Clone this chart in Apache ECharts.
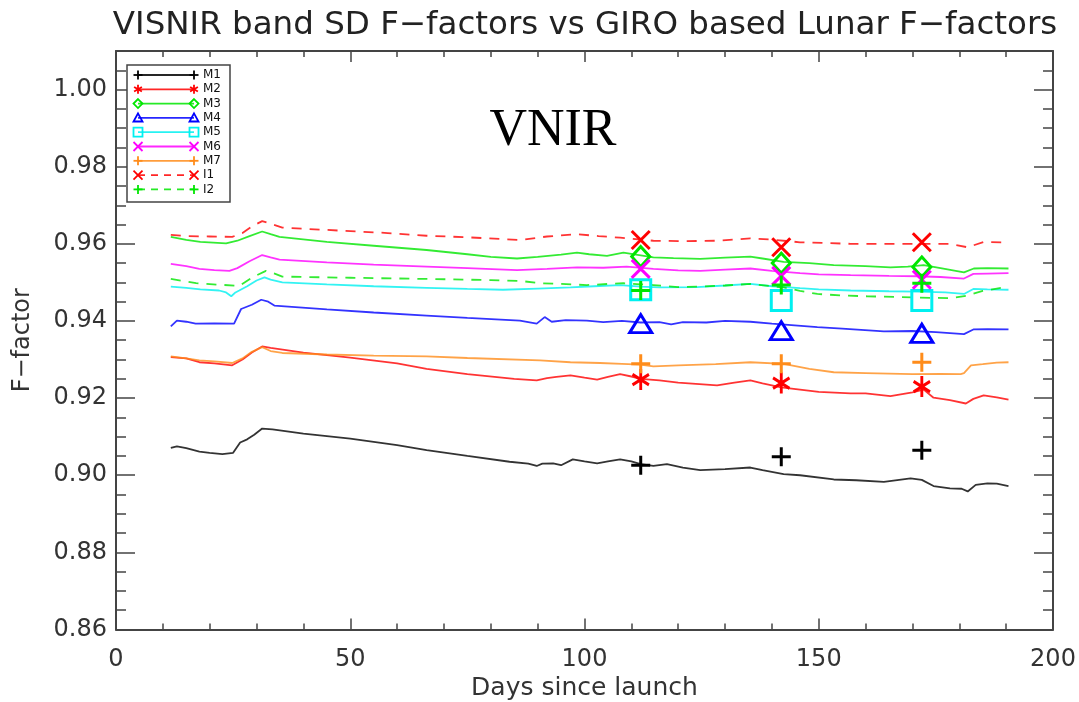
<!DOCTYPE html>
<html>
<head>
<meta charset="utf-8">
<title>VISNIR band SD F-factors vs GIRO based Lunar F-factors</title>
<script src="https://cdn.jsdelivr.net/npm/echarts@6/dist/echarts.min.js"></script>
<style>
  html, body { margin: 0; padding: 0; background: #fff; }
  #chart { width: 1079px; height: 702px; }
</style>
</head>
<body>
<div id="chart"></div>
<script>
// ---- data ----------------------------------------------------------------
const BANDS = ['M1', 'M2', 'M3', 'M4', 'M5', 'M6', 'M7', 'I1', 'I2'];

// Solar-diffuser F-factor trends: [days since launch, F-factor]
const SD_M1 = [[11.7,0.9071],[13,0.9075],[15,0.9070],[17.8,0.9061],[20,0.9058],[22.7,0.9055],[25,0.9058],[26.5,0.9085],[28,0.9093],[29.5,0.9105],[31.2,0.9121],[33.4,0.9119],[40,0.9108],[50,0.9095],[60,0.9078],[66.3,0.9065],[75,0.9050],[84,0.9035],[88,0.9030],[89.8,0.9024],[91,0.9030],[93.3,0.9031],[95,0.9026],[97.5,0.9041],[100,0.9036],[102.7,0.9031],[105,0.9036],[107.6,0.9041],[110,0.9036],[112,0.9029],[114.7,0.9024],[117.6,0.9029],[121,0.9020],[124.7,0.9013],[130,0.9016],[135.4,0.9020],[138,0.9013],[142.5,0.9003],[146,0.9000],[153.2,0.8989],[158,0.8987],[163.9,0.8983],[169.6,0.8992],[172,0.8988],[174.5,0.8972],[178,0.8966],[180.5,0.8965],[181.8,0.8958],[183.5,0.8975],[186,0.8979],[188,0.8978],[190.5,0.8972]];
const SD_M2 = [[11.7,0.9306],[15,0.9303],[17.8,0.9293],[21,0.9290],[24.8,0.9285],[27,0.9300],[29,0.9318],[31.2,0.9334],[33,0.9330],[40,0.9318],[50,0.9305],[60,0.9290],[66.3,0.9276],[75,0.9262],[85,0.9250],[89.8,0.9246],[92,0.9252],[94,0.9255],[97,0.9259],[100,0.9253],[102.7,0.9248],[105,0.9255],[107.6,0.9262],[110,0.9256],[112,0.9250],[116,0.9246],[120,0.9240],[128.3,0.9233],[132,0.9240],[135.4,0.9246],[138,0.9238],[142,0.9228],[146,0.9222],[150,0.9216],[156.8,0.9212],[160,0.9212],[165.3,0.9205],[170,0.9215],[172.4,0.9222],[174.5,0.9201],[178,0.9195],[181.4,0.9186],[183,0.9198],[185.2,0.9207],[188,0.9202],[190.5,0.9196]];
const SD_M3 = [[11.7,0.9618],[15,0.9610],[18,0.9605],[23.5,0.9601],[25.9,0.9608],[28.5,0.9620],[31.2,0.9632],[33,0.9625],[34.9,0.9618],[45,0.9605],[55,0.9595],[66.3,0.9584],[75,0.9573],[80,0.9566],[85.6,0.9562],[90,0.9566],[95,0.9572],[98.4,0.9577],[101,0.9573],[104.8,0.9569],[108.3,0.9577],[111,0.9572],[114.7,0.9565],[119,0.9563],[124.7,0.9561],[130,0.9564],[135.4,0.9567],[138,0.9562],[142.5,0.9553],[148,0.9550],[153.2,0.9545],[160,0.9542],[165.3,0.9539],[169,0.9541],[172.4,0.9545],[176,0.9537],[181,0.9526],[183.1,0.9536],[186,0.9537],[190.5,0.9536]];
const SD_M4 = [[11.7,0.9386],[13,0.9401],[15,0.9398],[17,0.9393],[21,0.9394],[25.2,0.9393],[26.7,0.9431],[29,0.9442],[31,0.9455],[32.5,0.9450],[33.8,0.9440],[45,0.9430],[55,0.9422],[66.3,0.9414],[75,0.9408],[86.2,0.9401],[89.8,0.9393],[91.5,0.9410],[93,0.9398],[96,0.9402],[100.5,0.9401],[104,0.9397],[108,0.9400],[112,0.9396],[116,0.9397],[118.5,0.9391],[121,0.9397],[126,0.9396],[130,0.9400],[135.4,0.9398],[140,0.9393],[149.7,0.9384],[155,0.9380],[163.9,0.9373],[170,0.9374],[175,0.9371],[181,0.9366],[183,0.9378],[186,0.9379],[190.5,0.9378]];
const SD_M5 = [[11.7,0.9489],[15,0.9486],[18,0.9482],[22,0.9479],[23.5,0.9474],[24.6,0.9464],[25.5,0.9474],[26.3,0.9479],[28,0.9490],[30,0.9505],[31.7,0.9513],[33,0.9507],[35.5,0.9500],[45,0.9495],[55,0.9490],[66.3,0.9486],[75,0.9483],[82.6,0.9481],[90,0.9484],[97,0.9487],[102,0.9490],[107.6,0.9493],[112,0.9489],[116,0.9487],[124,0.9488],[130,0.9492],[135.4,0.9496],[140,0.9490],[146,0.9485],[150,0.9482],[156.8,0.9479],[165,0.9477],[171,0.9476],[177,0.9474],[181,0.9470],[183,0.9483],[186,0.9482],[190.5,0.9481]];
const SD_M6 = [[11.7,0.9548],[15,0.9542],[17.8,0.9535],[21,0.9532],[24.2,0.9530],[25.9,0.9537],[28.5,0.9555],[31.2,0.9571],[33,0.9565],[34.9,0.9559],[45,0.9552],[55,0.9546],[66.3,0.9541],[75,0.9537],[85.6,0.9532],[92,0.9535],[98.4,0.9539],[104,0.9538],[109,0.9541],[114.7,0.9535],[120,0.9531],[124.7,0.9530],[130,0.9533],[135.4,0.9536],[140,0.9530],[146,0.9524],[150,0.9521],[156.8,0.9519],[165,0.9517],[171,0.9516],[176,0.9514],[181,0.9510],[183,0.9522],[186,0.9523],[190.5,0.9524]];
const SD_M7 = [[11.7,0.9308],[15,0.9303],[17.8,0.9298],[21,0.9295],[24.8,0.9291],[27,0.9303],[29,0.9320],[31.2,0.9332],[33,0.9322],[35.5,0.9317],[45,0.9313],[55,0.9310],[66.3,0.9308],[75,0.9304],[90.5,0.9298],[97,0.9293],[103.3,0.9291],[108,0.9289],[111.9,0.9287],[114.7,0.9282],[120,0.9285],[128,0.9288],[135.4,0.9293],[142.5,0.9289],[148,0.9276],[153.2,0.9267],[160,0.9265],[170,0.9262],[176,0.9263],[180.3,0.9262],[181,0.9265],[182.5,0.9285],[185,0.9288],[188,0.9292],[190.5,0.9293]];
const SD_I1 = [[11.7,0.9623],[15,0.9620],[20,0.9619],[24.8,0.9618],[27,0.9628],[29,0.9645],[31.2,0.9659],[33,0.9652],[35.5,0.9642],[48.3,0.9634],[58,0.9628],[66.3,0.9621],[75,0.9617],[86.2,0.9610],[92,0.9619],[98.4,0.9625],[103,0.9620],[107.6,0.9616],[114.7,0.9608],[121,0.9607],[128.3,0.9608],[135.4,0.9614],[140,0.9611],[146,0.9604],[156.8,0.9600],[167.5,0.9600],[178,0.9600],[181.8,0.9591],[185.2,0.9605],[190.5,0.9603]];
const SD_I2 = [[11.7,0.9509],[15,0.9502],[17.1,0.9498],[22,0.9494],[26.3,0.9491],[29.1,0.9513],[32,0.9530],[34,0.9522],[35.5,0.9515],[50,0.9512],[66.3,0.9509],[80,0.9506],[86.2,0.9504],[90.5,0.9498],[95,0.9496],[100.5,0.9493],[105,0.9496],[108.3,0.9498],[112,0.9495],[114.7,0.9493],[120,0.9488],[124.7,0.9489],[130,0.9492],[135.4,0.9496],[140,0.9490],[142.5,0.9487],[146,0.9478],[149.7,0.9470],[155,0.9466],[160.4,0.9464],[170,0.9461],[178.2,0.9459],[181.8,0.9466],[185,0.9478],[188,0.9484],[190.5,0.9489]];

// GIRO-based lunar F-factors at the three lunar calibration events
const LUNAR_DAYS = [112, 142, 172];
const LUNAR_M1 = [0.9026, 0.9048, 0.9065];
const LUNAR_M2 = [0.9248, 0.9239, 0.9230];
const LUNAR_M3 = [0.9567, 0.9550, 0.9540];
const LUNAR_M4 = [0.9393, 0.9375, 0.9368];
const LUNAR_M5 = [0.9481, 0.9453, 0.9453];
const LUNAR_M6 = [0.9535, 0.9517, 0.9507];
const LUNAR_M7 = [0.9289, 0.9289, 0.9293];
const LUNAR_I1 = [0.9610, 0.9591, 0.9604];
const LUNAR_I2 = [0.9479, 0.9493, 0.9498];

const X_TICKS = [0, 50, 100, 150, 200];
const Y_TICKS = [0.86, 0.88, 0.90, 0.92, 0.94, 0.96, 0.98, 1.00];

const SD = { M1: SD_M1, M2: SD_M2, M3: SD_M3, M4: SD_M4, M5: SD_M5, M6: SD_M6, M7: SD_M7, I1: SD_I1, I2: SD_I2 };
const LUNAR = { M1: LUNAR_M1, M2: LUNAR_M2, M3: LUNAR_M3, M4: LUNAR_M4, M5: LUNAR_M5, M6: LUNAR_M6, M7: LUNAR_M7, I1: LUNAR_I1, I2: LUNAR_I2 };

// ---- plot symbols as stroke outlines in a 10x10 box ---------------------
const SYM = {
  plus:     { closed: false, strokes: [[[0,5],[10,5]], [[5,0],[5,10]]] },
  asterisk: { closed: false, strokes: [[[5,0],[5,10]], [[0.67,2.5],[9.33,7.5]], [[9.33,2.5],[0.67,7.5]]] },
  diamond:  { closed: true,  strokes: [[[5,0],[10,5],[5,10],[0,5]]] },
  triangle: { closed: true,  strokes: [[[5,0],[10,9],[0,9]]] },
  square:   { closed: true,  strokes: [[[0,0],[10,0],[10,10],[0,10]]] },
  cross:    { closed: false, strokes: [[[0,0],[10,10]], [[10,0],[0,10]]] }
};
function symPath(name) {
  const s = SYM[name];
  return 'path://' + s.strokes.map(function (pts) {
    return pts.map(function (p, i) { return (i ? 'L' : 'M') + p[0] + ',' + p[1]; }).join('') + (s.closed ? 'Z' : '');
  }).join('');
}

const BAND_STYLE = {
  M1: { color: '#000000', sym: 'plus',     size: [19, 19], dashed: false },
  M2: { color: '#ff0000', sym: 'asterisk', size: [19, 21], dashed: false },
  M3: { color: '#00e600', sym: 'diamond',  size: [18, 20], dashed: false },
  M4: { color: '#0000ff', sym: 'triangle', size: [22, 20], dashed: false },
  M5: { color: '#00f0f0', sym: 'square',   size: [20, 20], dashed: false },
  M6: { color: '#ff00ff', sym: 'cross',    size: [18, 18], dashed: false },
  M7: { color: '#ff8c1a', sym: 'plus',     size: [19, 19], dashed: false },
  I1: { color: '#ff0000', sym: 'cross',    size: [18, 18], dashed: true },
  I2: { color: '#00e600', sym: 'plus',     size: [19, 19], dashed: true }
};
const FONT = '"DejaVu Sans", sans-serif';
const FRAME = '#444';

// ---- series ----------------------------------------------------------------
const series = [];
BANDS.forEach(function (b) {
  const st = BAND_STYLE[b];
  series.push({
    name: b + ' SD',
    type: 'line',
    data: SD[b],
    showSymbol: false,
    silent: true,
    z: 2,
    lineStyle: { color: st.color, width: 1.8, type: st.dashed ? [10, 8] : 'solid', opacity: 0.8 }
  });
});
BANDS.forEach(function (b) {
  const st = BAND_STYLE[b];
  series.push({
    name: b + ' Lunar',
    type: 'scatter',
    data: LUNAR_DAYS.map(function (d, i) { return [d, LUNAR[b][i]]; }),
    symbol: symPath(st.sym),
    symbolSize: st.size,
    symbolKeepAspect: true,
    silent: true,
    z: 5,
    itemStyle: { color: 'transparent', borderColor: st.color, borderWidth: 3, opacity: 1 }
  });
});

// ---- legend drawn as graphics --------------------------------------------
const LEG = { x: 127, y: 65, w: 103, h: 137, row0: 75, dy: 14.3, lx0: 138, lx1: 194, tx: 203, ms: 9 };
const graphics = [{
  type: 'rect', z: 50,
  shape: { x: LEG.x, y: LEG.y, width: LEG.w, height: LEG.h },
  style: { fill: '#fff', stroke: FRAME, lineWidth: 1.5 }
}];
function legendSymbol(name, cx, cy, size, color) {
  const s = SYM[name];
  return s.strokes.map(function (pts) {
    const pts2 = pts.map(function (p) { return [cx + (p[0] - 5) * size / 10, cy + (p[1] - 5) * size / 10]; });
    return {
      type: s.closed ? 'polygon' : 'polyline', z: 52,
      shape: { points: pts2 },
      style: { fill: s.closed ? 'transparent' : null, stroke: color, lineWidth: 1.8 }
    };
  });
}
BANDS.forEach(function (b, i) {
  const st = BAND_STYLE[b];
  const y = LEG.row0 + i * LEG.dy;
  graphics.push({
    type: 'line', z: 51,
    shape: { x1: LEG.lx0, y1: y, x2: LEG.lx1, y2: y },
    style: { stroke: st.color, lineWidth: 1.8, opacity: 0.85, lineDash: st.dashed ? [7, 6] : null }
  });
  [LEG.lx0, LEG.lx1].forEach(function (cx) {
    legendSymbol(st.sym, cx, y, LEG.ms, st.color).forEach(function (g) { graphics.push(g); });
  });
  graphics.push({
    type: 'text', z: 52, x: LEG.tx, y: y,
    style: { text: b, font: '12px ' + FONT, fill: '#111', textAlign: 'left', textVerticalAlign: 'middle' }
  });
});
// band-group tag inside the plot
graphics.push({
  type: 'text', z: 10, x: 553, y: 131,
  style: { text: 'VNIR', font: '52px "Liberation Serif", "DejaVu Serif", serif', fill: '#000', textAlign: 'center', textVerticalAlign: 'middle' }
});
// chart title, centred over the plot frame
graphics.push({
  type: 'text', z: 10, x: 585, y: 26,
  style: { text: 'VISNIR band SD F\u2212factors vs GIRO based Lunar F\u2212factors', font: '32.5px ' + FONT, fill: '#222', textAlign: 'center', textVerticalAlign: 'middle' }
});

// ---- axes ------------------------------------------------------------------
function xAxis(pos, major) {
  return {
    type: 'value', position: pos, min: 0, max: 200, interval: major ? 50 : 10,
    axisLine: { show: major, onZero: false, lineStyle: { color: FRAME, width: 2 } },
    axisTick: { show: true, inside: true, length: major ? 11 : 6, lineStyle: { color: FRAME, width: 1.5 } },
    axisLabel: { show: major && pos === 'bottom', margin: 18, fontSize: 24, fontFamily: FONT, color: '#333',
                 alignMinLabel: 'center', alignMaxLabel: 'center',
                 formatter: function (v) { return X_TICKS.indexOf(v) >= 0 ? String(v) : ''; } },
    splitLine: { show: false },
    name: (major && pos === 'bottom') ? 'Days since launch' : '',
    nameLocation: 'middle', nameGap: 46,
    nameTextStyle: { fontSize: 25, fontFamily: FONT, color: '#333' }
  };
}
function yAxis(pos, major) {
  return {
    type: 'value', position: pos, min: 0.86, max: 1.01, interval: major ? 0.02 : 0.005,
    axisLine: { show: major, onZero: false, lineStyle: { color: FRAME, width: 2 } },
    axisTick: { show: true, inside: true, length: major ? 19 : 10, lineStyle: { color: FRAME, width: 1.5 } },
    axisLabel: { show: major && pos === 'left', margin: 9, fontSize: 24, fontFamily: FONT, color: '#333', showMaxLabel: false,
                 verticalAlignMinLabel: 'middle', verticalAlignMaxLabel: 'middle',
                 formatter: function (v) {
                   const t = Y_TICKS.find(function (k) { return Math.abs(k - v) < 1e-6; });
                   return t === undefined ? '' : t.toFixed(2);
                 } },
    splitLine: { show: false },
    name: (major && pos === 'left') ? 'F\u2212factor' : '',
    nameLocation: 'middle', nameGap: 81,
    nameTextStyle: { fontSize: 24, fontFamily: FONT, color: '#333' }
  };
}

const chart = echarts.init(document.getElementById('chart'), null, { renderer: 'canvas' });
chart.setOption({
  animation: false,
  backgroundColor: '#fff',
  grid: { left: 116, right: 26, top: 51, bottom: 72.5, containLabel: false, outerBoundsMode: 'none' },
  xAxis: [xAxis('bottom', true), xAxis('bottom', false), xAxis('top', true), xAxis('top', false)],
  yAxis: [yAxis('left', true), yAxis('left', false), yAxis('right', true), yAxis('right', false)],
  series: series,
  graphic: { elements: graphics }
});
</script>
</body>
</html>
